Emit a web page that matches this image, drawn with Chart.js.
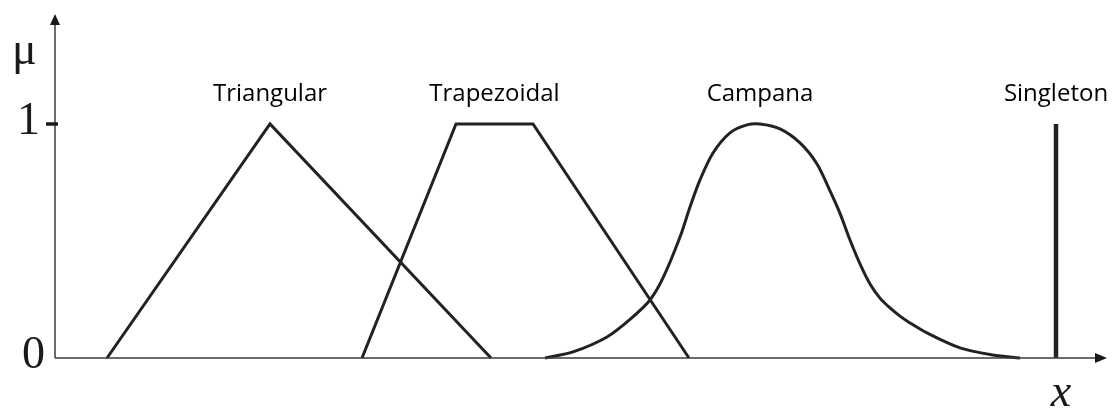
<!DOCTYPE html>
<html>
<head>
<meta charset="utf-8">
<script src="https://cdn.jsdelivr.net/npm/chart.js@4.4.1/dist/chart.umd.min.js"></script>
<style>
    html, body { margin: 0; padding: 0; background: #fff; }
    #wrap { width: 1112px; height: 411px; }
</style>
</head>
<body>
<div id="wrap"><canvas id="chart"></canvas></div>
<script>
// Membership functions, x in arbitrary units, y = membership degree (mu)
const triangularX = [5.2, 21.5, 43.6];
const triangularY = [0, 1, 0];

const trapezoidalX = [30.7, 40.1, 47.8, 63.4];
const trapezoidalY = [0, 1, 1, 0];

const campanaX = [49.0, 51.8, 55.2, 57.5, 59.5, 60.8, 62.5, 63.5, 64.5, 65.8, 67.5, 69.2, 70.5,
    72.5, 74.5, 76.2, 77.5, 78.5, 79.5, 80.5, 81.5, 82.5, 83.5, 84.5, 85.5, 87.2, 90.5, 93.8, 96.5];
const campanaY = [0, 0.026, 0.09, 0.165, 0.248, 0.342, 0.517, 0.645, 0.761, 0.876, 0.962, 0.996, 1.0,
    0.979, 0.919, 0.829, 0.714, 0.618, 0.504, 0.402, 0.316, 0.256, 0.214, 0.179, 0.15, 0.107, 0.043, 0.013, 0];

const singletonX = [100.1, 100.1];
const singletonY = [0, 1];

const shapeNames = ["Triangular", "Trapezoidal", "Campana", "Singleton"];

const yTickValues = [0, 1];
const yTickLabels = ["0", "1"];
const yAxisTitle = "\u03bc";
const xAxisTitle = "x";

const toPoints = (xs, ys) => xs.map((x, i) => ({ x: x, y: ys[i] }));

const series = [
    { x: triangularX, y: triangularY, width: 3, smooth: false },
    { x: trapezoidalX, y: trapezoidalY, width: 3, smooth: false },
    { x: campanaX, y: campanaY, width: 3, smooth: true },
    { x: singletonX, y: singletonY, width: 4.5, smooth: false },
];

// Axes with arrows, ticks and labels
const axesPlugin = {
    id: "axes",
    afterDatasetsDraw(chart) {
        const ctx = chart.ctx;
        const xs = chart.scales.x;
        const ys = chart.scales.y;
        const x0 = xs.getPixelForValue(xs.min);
        const x1 = xs.getPixelForValue(xs.max);
        const y0 = ys.getPixelForValue(0);
        const yTop = ys.getPixelForValue(ys.max);

        ctx.save();
        ctx.strokeStyle = "#3a3a3a";
        ctx.fillStyle = "#1a1a1a";
        ctx.lineWidth = 1.5;

        // x axis
        ctx.beginPath();
        ctx.moveTo(x0, y0);
        ctx.lineTo(x1 - 8, y0);
        ctx.stroke();
        ctx.beginPath();
        ctx.moveTo(x1, y0);
        ctx.lineTo(x1 - 12, y0 - 5);
        ctx.lineTo(x1 - 12, y0 + 5);
        ctx.closePath();
        ctx.fill();

        // y axis
        ctx.beginPath();
        ctx.moveTo(x0, y0);
        ctx.lineTo(x0, yTop + 8);
        ctx.stroke();
        ctx.beginPath();
        ctx.moveTo(x0, yTop);
        ctx.lineTo(x0 - 5, yTop + 11);
        ctx.lineTo(x0 + 5, yTop + 11);
        ctx.closePath();
        ctx.fill();

        // ticks
        ctx.font = "46px 'Liberation Serif', 'DejaVu Serif', serif";
        ctx.textAlign = "right";
        ctx.textBaseline = "middle";
        yTickValues.forEach((v, i) => {
            const py = ys.getPixelForValue(v);
            let right = x0 - 10;
            if (v !== 0) {
                ctx.lineWidth = 3.5;
                ctx.strokeStyle = "#1a1a1a";
                ctx.beginPath();
                ctx.moveTo(x0 - 9, py);
                ctx.lineTo(x0 + 3, py);
                ctx.stroke();
                right = x0 - 15;
            }
            ctx.fillText(yTickLabels[i], right, py - 2);
        });

        // axis titles
        ctx.textAlign = "left";
        ctx.fillText(yAxisTitle, 12, 52);
        ctx.font = "italic 46px 'Liberation Serif', 'DejaVu Serif', serif";
        ctx.textAlign = "center";
        ctx.fillText(xAxisTitle, xs.getPixelForValue(singletonX[0]) + 5, y0 + 36);

        // shape names, centered over each peak
        ctx.font = "24px 'Open Sans', sans-serif";
        ctx.fillStyle = "#000";
        ctx.textAlign = "center";
        ctx.textBaseline = "alphabetic";
        series.forEach((s, i) => {
            const peak = Math.max(...s.y);
            const top = s.x.filter((x, j) => s.y[j] === peak);
            const cx = (Math.min(...top) + Math.max(...top)) / 2;
            ctx.fillText(shapeNames[i], xs.getPixelForValue(cx), ys.getPixelForValue(1) - 23);
        });
        ctx.restore();
    },
};

new Chart(document.querySelector("#chart"), {
    type: "scatter",
    data: {
        datasets: series.map((s, i) => ({
            label: shapeNames[i],
            data: toPoints(s.x, s.y),
            showLine: true,
            borderColor: "#222",
            borderWidth: s.width,
            pointRadius: 0,
            tension: s.smooth ? 0.3 : 0,
            borderJoinStyle: "miter",
            clip: false,
        })),
    },
    options: {
        responsive: true,
        maintainAspectRatio: false,
        animation: false,
        layout: { padding: { left: 55, top: 14, right: 5, bottom: 53 } },
        plugins: { legend: { display: false }, tooltip: { enabled: false } },
        scales: {
            x: { type: "linear", min: 0, max: 105.2, display: false },
            y: { type: "linear", min: 0, max: 1.47, display: false },
        },
    },
    plugins: [axesPlugin],
});
</script>
</body>
</html>
